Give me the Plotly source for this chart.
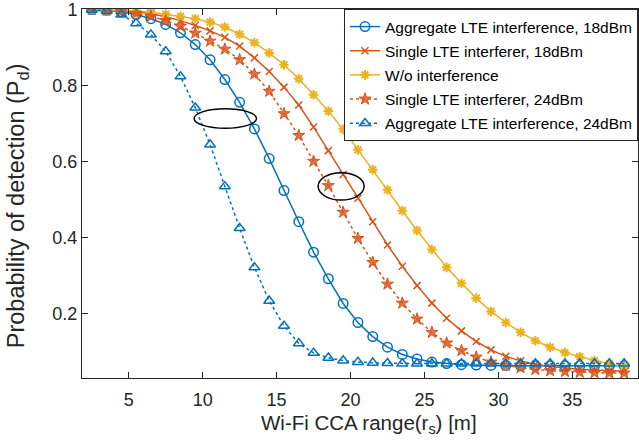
import plotly.graph_objects as go

# ---- data ----
x_range_m = [2.5, 3.5, 4.5, 5.5, 6.5, 7.5, 8.5, 9.5, 10.5, 11.5, 12.5, 13.5, 14.5,
             15.5, 16.5, 17.5, 18.5, 19.5, 20.5, 21.5, 22.5, 23.5, 24.5, 25.5, 26.5,
             27.5, 28.5, 29.5, 30.5, 31.5, 32.5, 33.5, 34.5, 35.5, 36.5, 37.5, 38.5]

agg_18 = [0.999, 0.997, 0.993, 0.986, 0.975, 0.960, 0.938, 0.907, 0.867, 0.815, 0.755, 0.685, 0.607,
          0.523, 0.441, 0.361, 0.291, 0.226, 0.176, 0.139, 0.111, 0.092, 0.080, 0.072, 0.068,
          0.065, 0.064, 0.063, 0.063, 0.062, 0.062, 0.062, 0.062, 0.062, 0.062, 0.062, 0.062]

single_18 = [0.999, 0.998, 0.996, 0.993, 0.988, 0.980, 0.970, 0.957, 0.943, 0.926, 0.903, 0.872, 0.836,
             0.795, 0.748, 0.690, 0.628, 0.565, 0.503, 0.441, 0.380, 0.324, 0.273, 0.227, 0.187,
             0.154, 0.126, 0.104, 0.087, 0.075, 0.066, 0.060, 0.056, 0.053, 0.051, 0.049, 0.048]

no_interf = [0.999, 0.998, 0.997, 0.995, 0.992, 0.987, 0.981, 0.975, 0.966, 0.953, 0.934, 0.912, 0.885,
             0.854, 0.817, 0.775, 0.732, 0.684, 0.630, 0.578, 0.525, 0.470, 0.418, 0.368, 0.321,
             0.279, 0.240, 0.205, 0.176, 0.150, 0.128, 0.111, 0.097, 0.086, 0.076, 0.067, 0.061]

single_24 = [0.999, 0.997, 0.994, 0.989, 0.981, 0.970, 0.955, 0.937, 0.916, 0.895, 0.867, 0.829, 0.784,
             0.725, 0.668, 0.600, 0.536, 0.466, 0.397, 0.334, 0.277, 0.227, 0.185, 0.150, 0.122,
             0.102, 0.085, 0.072, 0.063, 0.057, 0.052, 0.049, 0.047, 0.045, 0.044, 0.043, 0.043]

agg_24 = [0.998, 0.995, 0.986, 0.963, 0.933, 0.889, 0.823, 0.741, 0.644, 0.534, 0.424, 0.321, 0.233,
          0.167, 0.121, 0.096, 0.083, 0.076, 0.072, 0.070, 0.069, 0.068, 0.068, 0.068, 0.068,
          0.068, 0.068, 0.068, 0.068, 0.068, 0.068, 0.068, 0.068, 0.068, 0.068, 0.068, 0.068]

series_names = ["Aggregate LTE interference, 18dBm",
                "Single LTE interferer, 18dBm",
                "W/o interference",
                "Single LTE interferer, 24dBm",
                "Aggregate LTE interference, 24dBm"]

x_ticks = [5, 10, 15, 20, 25, 30, 35]
y_ticks = [0.2, 0.4, 0.6, 0.8, 1.0]
y_tick_text = ["0.2", "0.4", "0.6", "0.8", "1"]

x_title = "Wi-Fi CCA range(r<sub>s</sub>) [m]"
y_title = "Probability of detection (P<sub>d</sub>)"

# highlight ellipses (data coords): x0, x1, y0, y1
ellipse_a = (9.42, 13.64, 0.687, 0.738)
ellipse_b = (17.81, 20.92, 0.498, 0.570)

BLUE = "#0072BD"
ORANGE = "#D95319"
YELLOW = "#EDB120"
TXT = "#262626"
FONT = "Liberation Sans, Arial, Helvetica, sans-serif"

fig = go.Figure()

fig.add_trace(go.Scatter(
    x=x_range_m, y=agg_18, name=series_names[0], mode="lines+markers", legendgroup="g0",
    line=dict(color=BLUE, width=1.5),
    marker=dict(symbol="circle-open", size=9.5, color=BLUE, line=dict(width=1.5, color=BLUE))))

fig.add_trace(go.Scatter(
    x=x_range_m, y=single_18, name=series_names[1], mode="lines+markers", legendgroup="g1",
    line=dict(color=ORANGE, width=1.5),
    marker=dict(symbol="x-thin-open", size=7, color=ORANGE, line=dict(width=1.5, color=ORANGE))))

fig.add_trace(go.Scatter(
    x=x_range_m, y=no_interf, name=series_names[2], mode="lines+markers", legendgroup="g2",
    line=dict(color=YELLOW, width=1.5),
    marker=dict(symbol="asterisk-open", size=8, color=YELLOW, line=dict(width=2, color=YELLOW))))

fig.add_trace(go.Scatter(
    x=x_range_m, y=single_24, name=series_names[3], mode="lines+markers", legendgroup="g3",
    line=dict(color=ORANGE, width=1.5, dash="dot"),
    marker=dict(symbol="star", size=9, color="rgba(217,83,25,0.8)", line=dict(width=1, color=ORANGE))))

fig.add_trace(go.Scatter(
    x=x_range_m, y=agg_24, name=series_names[4], mode="lines+markers", legendgroup="g4",
    line=dict(color=BLUE, width=1.5, dash="dot"),
    marker=dict(symbol="triangle-up-open", size=9.5, color=BLUE, line=dict(width=1.5, color=BLUE))))

for (ex0, ex1, ey0, ey1) in (ellipse_a, ellipse_b):
    fig.add_shape(type="circle", xref="x", yref="y", x0=ex0, x1=ex1, y0=ey0, y1=ey1,
                  line=dict(color="black", width=1.5))

axis_common = dict(
    showline=True, linecolor=TXT, linewidth=1, mirror="ticks",
    ticks="inside", ticklen=6, tickcolor=TXT, tickwidth=1,
    showgrid=False, zeroline=False, automargin=False, ticklabeloverflow="allow",
    tickfont=dict(family=FONT, size=18, color=TXT),
)

fig.update_xaxes(range=[1.84, 39.44], tickvals=x_ticks, ticklabelstandoff=5, **axis_common)
fig.update_yaxes(range=[0.03, 1.0005], tickvals=y_ticks, ticktext=y_tick_text, **axis_common)

# axis titles (placed to match the reference offsets)
fig.add_annotation(text=x_title, xref="paper", yref="paper", x=0.5153, y=-0.083,
                   xanchor="center", yanchor="top", showarrow=False,
                   font=dict(family=FONT, size=20.5, color=TXT))
fig.add_annotation(text=y_title, xref="paper", yref="paper", x=-0.117, y=0.468,
                   xanchor="center", yanchor="middle", showarrow=False, textangle=-90,
                   font=dict(family=FONT, size=23.5, color=TXT))

fig.update_layout(
    width=639, height=445,
    margin=dict(l=82, r=1, t=9, b=67),
    plot_bgcolor="white", paper_bgcolor="white",
    font=dict(family=FONT, color=TXT),
    legend=dict(x=1, y=1, xanchor="right", yanchor="top",
                bgcolor="white", bordercolor=TXT, borderwidth=1,
                font=dict(family=FONT, size=15.5, color="black"),
                itemwidth=30, tracegroupgap=1),
    showlegend=True,
)

fig.write_html("out.html", config={"displayModeBar": False},
               post_script="document.body.style.margin='0';document.body.style.padding='0';")
